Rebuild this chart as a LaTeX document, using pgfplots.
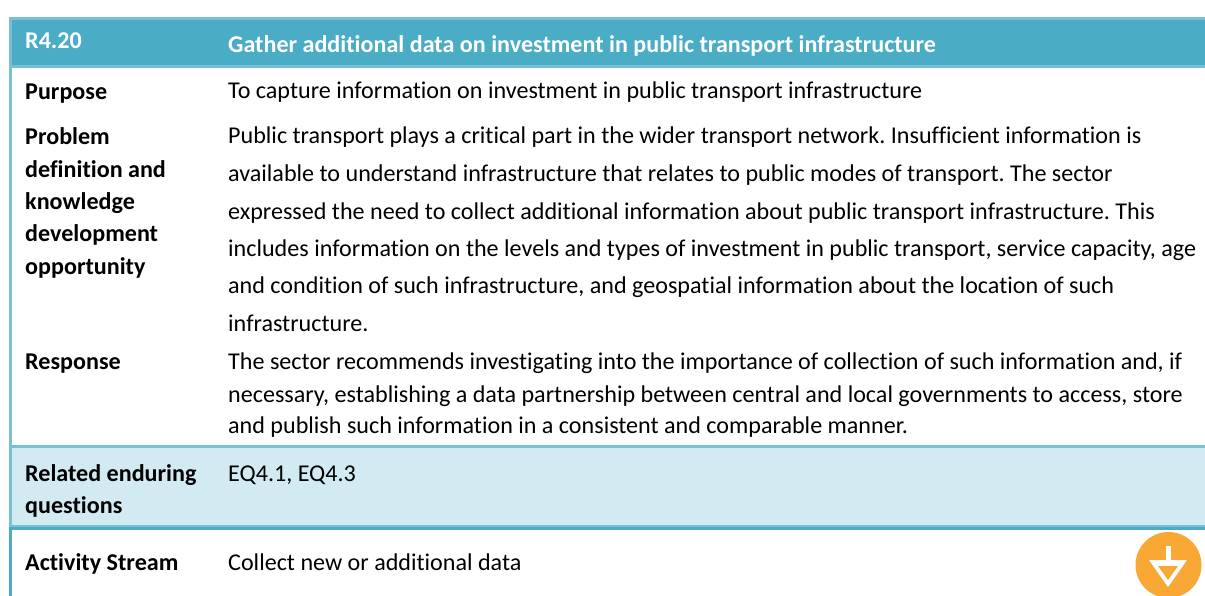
\documentclass[border=0pt]{standalone}
\usepackage{pgfplots}
\pgfplotsset{compat=1.18}
\usepackage{fontspec}
\setmainfont[RawFeature={-liga;-clig}]{Carlito}
\frenchspacing
\definecolor{hdr}{HTML}{4BACC6}
\definecolor{bord}{HTML}{78C0D4}
\definecolor{band}{HTML}{D2EAF1}
\definecolor{ico}{HTML}{F9A836}
\begin{document}
\begin{tikzpicture}
\begin{axis}[scale only axis,width=1205pt,height=596pt,xmin=0,xmax=1205,ymin=0,ymax=596,y dir=reverse,hide axis,clip=true]
\addplot[fill=white,draw=none] coordinates {(0,0)(1205,0)(1205,596)(0,596)} --cycle;
% header
\addplot[fill=bord,draw=none] coordinates {(9,17)(1205,17)(1205,68)(9,68)} --cycle;
\addplot[fill=hdr,draw=none] coordinates {(12,20)(1205,20)(1205,65)(12,65)} --cycle;
% left border
\addplot[fill=bord,draw=none] coordinates {(9,68)(12,68)(12,530)(9,530)} --cycle;
\addplot[fill=hdr,draw=none] coordinates {(9,530)(12,530)(12,596)(9,596)} --cycle;
% related row
\addplot[fill=bord,draw=none] coordinates {(12,445)(1205,445)(1205,448)(12,448)} --cycle;
\addplot[fill=band,draw=none] coordinates {(12,448)(1205,448)(1205,525)(12,525)} --cycle;
\addplot[fill=bord,draw=none] coordinates {(9,525)(1205,525)(1205,527)(9,527)} --cycle;
\addplot[fill=hdr,draw=none] coordinates {(9,527)(1205,527)(1205,530)(9,530)} --cycle;
% icon
\addplot[fill=white,draw=none] coordinates {(1134,530)(1205,530)(1205,596)(1134,596)} --cycle;
\fill[ico] (axis cs:1168.5,565) circle[radius=33pt];
\addplot[fill=white,draw=none] coordinates {(1149,560)(1187,560)(1168,587)} --cycle;
\addplot[fill=ico,draw=none] coordinates {(1158,566)(1178,566)(1168,580)} --cycle;
\addplot[fill=white,draw=none] coordinates {(1166,546)(1171,546)(1171,560)(1166,560)} --cycle;
\tikzset{t/.style={anchor=base west,inner sep=0pt,yshift=-1pt,font=\fontsize{24.1pt}{26pt}\selectfont},b/.style={t,font=\fontsize{24.1pt}{26pt}\selectfont\bfseries}}
% header text
\node[b,text=white] at (axis cs:25,48) {R4.20};
\node[b,text=white] at (axis cs:228,52) {Gather additional data on investment in public transport infrastructure};
% left column
\node[b] at (axis cs:25,99) {Purpose};
\node[b] at (axis cs:25,144) {Problem};
\node[b] at (axis cs:25,177) {definition and};
\node[b] at (axis cs:25,209) {knowledge};
\node[b] at (axis cs:25,241) {development};
\node[b] at (axis cs:25,273) {opportunity};
\node[b] at (axis cs:25,368) {Response};
\node[b] at (axis cs:25,480) {Related enduring};
\node[b] at (axis cs:25,512) {questions};
\node[b] at (axis cs:25,569) {Activity Stream};
% right column
\node[t] at (axis cs:228,98) {To capture information on investment in public transport infrastructure};
\node[t] at (axis cs:228,143) {Public transport plays a critical part in the wider transport network. Insufficient information is};
\node[t] at (axis cs:228,181) {available to understand infrastructure that relates to public modes of transport. The sector};
\node[t] at (axis cs:228,219) {expressed the need to collect additional information about public transport infrastructure. This};
\node[t] at (axis cs:228,256) {includes information on the levels and types of investment in public transport, service capacity, age};
\node[t] at (axis cs:228,293) {and condition of such infrastructure, and geospatial information about the location of such};
\node[t] at (axis cs:228,330) {infrastructure.};
\node[t] at (axis cs:228,368) {The sector recommends investigating into the importance of collection of such information and, if};
\node[t] at (axis cs:228,401) {necessary, establishing a data partnership between central and local governments to access, store};
\node[t] at (axis cs:228,432) {and publish such information in a consistent and comparable manner.};
\node[t] at (axis cs:228,480) {EQ4.1, EQ4.3};
\node[t] at (axis cs:228,569) {Collect new or additional data};
\end{axis}
\end{tikzpicture}
\end{document}
